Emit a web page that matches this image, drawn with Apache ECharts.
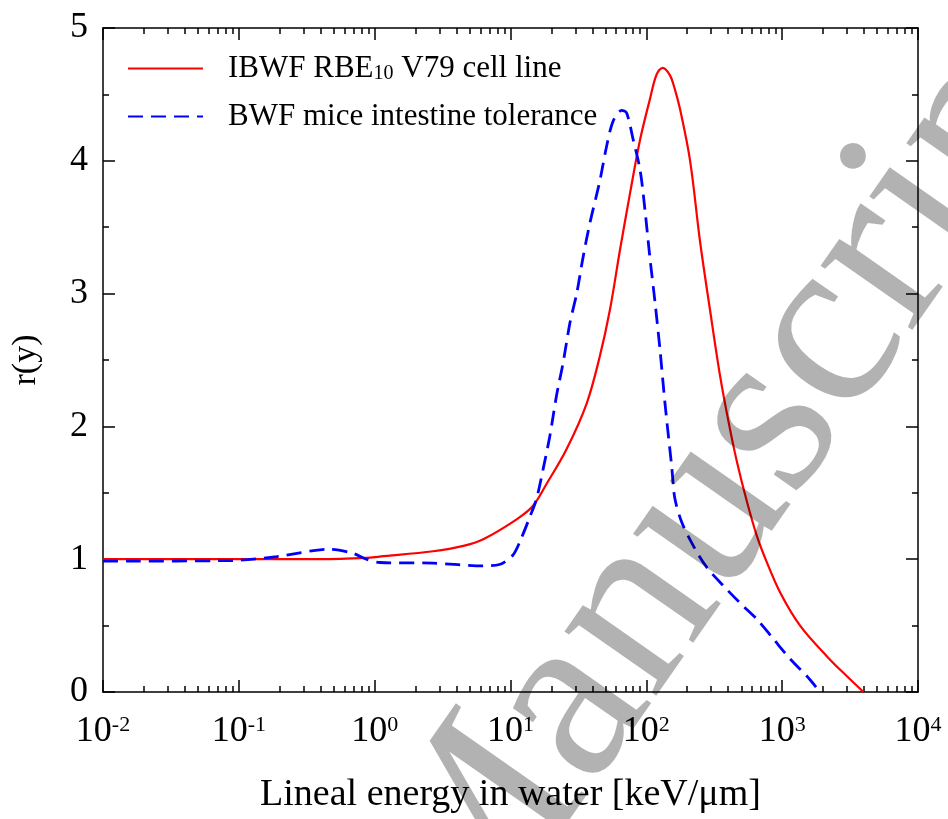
<!DOCTYPE html>
<html>
<head>
<meta charset="utf-8">
<script src="https://cdn.jsdelivr.net/npm/echarts@6/dist/echarts.min.js"></script>
<style>
  html, body { margin: 0; background: #fff; }
  #chart { width: 948px; height: 819px; }
</style>
</head>
<body>
<div id="chart"></div>
<script>
const FONT = '"Liberation Serif", "DejaVu Serif", serif';

const seriesNames = ['IBWF RBE10 V79 cell line', 'BWF mice intestine tolerance'];

// lineal energy [keV/um] and r(y)
const ibwfX = [0.01, 0.1, 0.4, 0.87, 1.09, 2.7, 4.5, 6.3, 11.1, 14.6, 18.5, 25.9, 36.3, 45.5, 54, 64, 76, 90, 106, 119, 132, 149, 162, 177, 210, 248, 294, 349, 402, 463, 548, 649, 769, 966, 1355, 2130, 2985, 3970];
const ibwfY = [1.0, 1.0, 1.0, 1.01, 1.02, 1.06, 1.10, 1.15, 1.30, 1.40, 1.57, 1.83, 2.17, 2.53, 2.88, 3.33, 3.76, 4.16, 4.46, 4.65, 4.70, 4.645, 4.54, 4.39, 4.0, 3.40, 2.88, 2.38, 2.04, 1.74, 1.44, 1.18, 0.98, 0.75, 0.50, 0.27, 0.12, 0];

const bwfX = [0.01, 0.09, 0.19, 0.47, 0.69, 0.87, 1.09, 2.7, 6.3, 8.3, 10.4, 11.7, 13.9, 15.5, 17.4, 19.5, 21.8, 24.4, 27.4, 30.7, 34.3, 38.4, 45.5, 51, 57, 65.8, 71.6, 80, 90, 97.7, 106, 116, 126, 137, 154, 162, 182, 222, 278, 369, 490, 649, 861, 1143, 1517, 1905];
const bwfY = [0.985, 0.99, 1.02, 1.075, 1.045, 1.0, 0.975, 0.97, 0.95, 0.96, 1.03, 1.13, 1.32, 1.45, 1.68, 1.93, 2.23, 2.48, 2.78, 3.0, 3.28, 3.53, 3.85, 4.11, 4.30, 4.38, 4.36, 4.16, 3.93, 3.63, 3.28, 2.93, 2.58, 2.18, 1.69, 1.46, 1.28, 1.10, 0.94, 0.80, 0.67, 0.55, 0.40, 0.25, 0.12, 0];

const decades = [0.01, 0.1, 1, 10, 100, 1000, 10000];
const yTicks = [0, 1, 2, 3, 4, 5];

// 2..9 between decades for the short ticks
const minorX = [];
decades.slice(0, -1).forEach((d) => {
  for (let k = 2; k <= 9; k++) {
    minorX.push(+(k * d).toPrecision(3));
  }
});

const zip = (xs, ys) => xs.map((x, i) => [x, ys[i]]);

const axisLineStyle = { color: '#000', width: 1.5 };

function xAxisPair(position, withLabels) {
  const major = {
    type: 'log', logBase: 10, position: position, gridIndex: 0,
    min: decades[0], max: decades[decades.length - 1],
    axisLine: { show: true, lineStyle: axisLineStyle },
    axisTick: { show: true, inside: true, length: 12, customValues: decades, lineStyle: axisLineStyle },
    axisLabel: { show: false },
    splitLine: { show: false }
  };
  if (withLabels) {
    major.axisLabel = {
      show: true, customValues: decades, margin: 22,
      formatter: (v) => '{b|10}{s|' + Math.round(Math.log10(v)) + '}',
      rich: {
        b: { fontFamily: FONT, fontSize: 36, color: '#000', lineHeight: 36 },
        s: { fontFamily: FONT, fontSize: 22, color: '#000', verticalAlign: 'top', lineHeight: 22 }
      }
    };
    major.name = 'Lineal energy in water [keV/μm]';
    major.nameLocation = 'middle';
    major.nameGap = 84;
    major.nameTextStyle = { fontFamily: FONT, fontSize: 38, color: '#000' };
  }
  const minor = {
    type: 'log', logBase: 10, position: position, gridIndex: 0,
    min: decades[0], max: decades[decades.length - 1],
    axisLine: { show: false },
    axisTick: { show: true, inside: true, length: 6, customValues: minorX, lineStyle: axisLineStyle },
    axisLabel: { show: false },
    splitLine: { show: false }
  };
  return [major, minor];
}

function yAxisSide(position, withLabels) {
  return {
    type: 'value', position: position, gridIndex: 0,
    min: yTicks[0], max: yTicks[yTicks.length - 1], interval: 1,
    axisLine: { show: true, lineStyle: axisLineStyle },
    axisTick: { show: true, inside: true, length: 12, lineStyle: axisLineStyle },
    minorTick: { show: true, splitNumber: 2, length: 6, lineStyle: axisLineStyle },
    axisLabel: withLabels
      ? { show: true, margin: 15, fontFamily: FONT, fontSize: 36, color: '#000' }
      : { show: false },
    splitLine: { show: false },
    minorSplitLine: { show: false },
    name: withLabels ? 'r(y)' : '',
    nameLocation: 'middle',
    nameGap: 60,
    nameTextStyle: { fontFamily: FONT, fontSize: 34, color: '#000' }
  };
}

const chart = echarts.init(document.getElementById('chart'), null, { renderer: 'canvas' });

chart.setOption({
  animation: false,
  backgroundColor: '#fff',
  grid: { left: 103, right: 30, top: 28, bottom: 126, containLabel: false },
  xAxis: [...xAxisPair('bottom', true), ...xAxisPair('top', false)],
  yAxis: [yAxisSide('left', true), yAxisSide('right', false)],
  legend: {
    orient: 'vertical', left: 127, top: 53, padding: 0,
    itemWidth: 75, itemHeight: 14, itemGap: 17,
    data: seriesNames,
    // hide the circle ECharts puts on line-series legend icons
    itemStyle: { opacity: 0 },
    formatter: (name) => name.replace('RBE10', 'RBE{sub|10}'),
    textStyle: {
      fontFamily: FONT, fontSize: 31, color: '#000', padding: [0, 0, 0, 20],
      rich: {
        sub: { fontFamily: FONT, fontSize: 20, color: '#000', verticalAlign: 'bottom', lineHeight: 12 }
      }
    }
  },
  series: [
    {
      name: seriesNames[0], type: 'line', xAxisIndex: 0, yAxisIndex: 0,
      data: zip(ibwfX, ibwfY), symbol: 'none', smooth: 0.35,
      color: '#ff0000', lineStyle: { color: '#ff0000', width: 2.2 }
    },
    {
      name: seriesNames[1], type: 'line', xAxisIndex: 0, yAxisIndex: 0,
      data: zip(bwfX, bwfY), symbol: 'none', smooth: 0.3,
      color: '#0000ff', lineStyle: { color: '#0000ff', width: 2.8, type: [15, 8] }
    }
  ],
  graphic: [
    {
      // grey "Manuscript" stamp laid over the plot
      type: 'text', x: 414, y: 930, rotation: 55 * Math.PI / 180, z: 100, silent: true,
      style: {
        text: 'Manuscript', font: '244px "Liberation Serif"',
        fill: 'rgba(0,0,0,0.3)', align: 'left', verticalAlign: 'middle',
        textAlign: 'left', textVerticalAlign: 'middle'
      }
    }
  ]
});
</script>
</body>
</html>
